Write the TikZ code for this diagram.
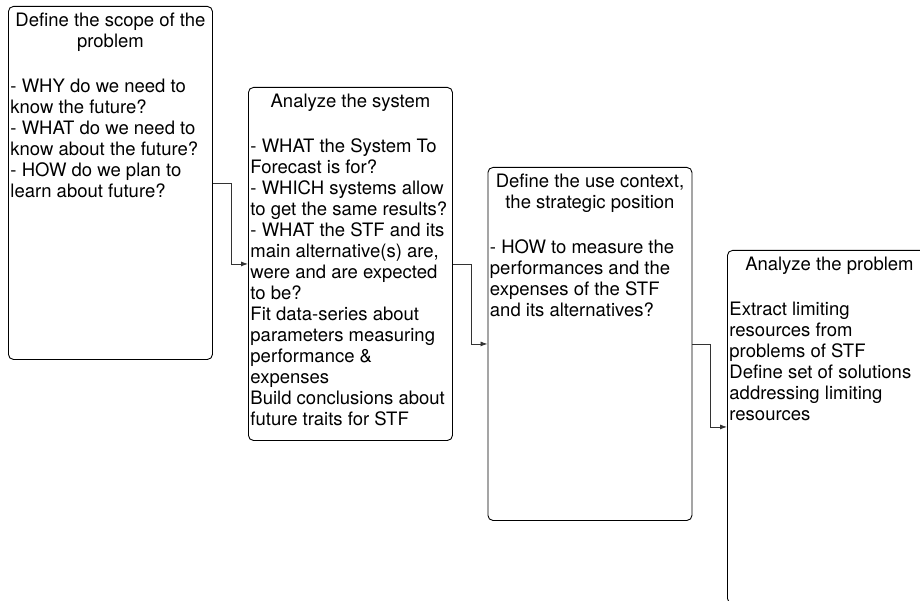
\documentclass[tikz,border=0pt]{standalone}
\usepackage{fontspec}
\setmainfont{TeX Gyre Heros}
\usetikzlibrary{arrows.meta}
\tikzset{
  stage/.style={draw=black, line width=0.9pt, rounded corners=5pt, inner xsep=2pt, inner ysep=0pt,
    anchor=north west, font=\fontsize{18.5}{21}\selectfont},
  link/.style={draw=black!80, line width=0.8pt, -{Latex[length=7pt,width=5pt]}},
}
\newcommand\stagetext[2]{\parbox[t][353pt][t]{200pt}{\setlength\baselineskip{21pt}\centering\rule{0pt}{20.5pt}#1\par\raggedright\vspace{23.5pt}#2}}
\begin{document}
\begin{tikzpicture}[x=1pt,y=-1pt]
\useasboundingbox (0,0) rectangle (920,601);
\clip (0,0) rectangle (920,601);
\node[stage] (b1) at (8,6) {\stagetext{Define the scope of the\\problem}{- WHY do we need to\\know the future?\\- WHAT do we need to\\know about the future?\\- HOW do we plan to\\learn about future?}};
\node[stage] (b2) at (248,87) {\stagetext{Analyze the system}{- WHAT the System To\\Forecast is for?\\- WHICH systems allow\\to get the same results?\\- WHAT the STF and its\\main alternative(s) are,\\were and are expected\\to be?\\Fit data-series about\\parameters measuring\\performance \&\\expenses\\Build conclusions about\\future traits for STF}};
\node[stage] (b3) at (487.5,167) {\stagetext{Define the use context,\\the strategic position}{- HOW to measure the\\performances and the\\expenses of the STF\\and its alternatives?}};
\node[stage] (b4) at (727,250) {\stagetext{Analyze the problem}{Extract limiting\\resources from\\problems of STF\\Define set of solutions\\addressing limiting\\resources}};
\draw[link] (b1.east) -- ++(18,0) |- (b2.west);
\draw[link] (b2.east) -- ++(18,0) |- (b3.west);
\draw[link] (b3.east) -- ++(18,0) |- (b4.west);
\end{tikzpicture}
\end{document}
